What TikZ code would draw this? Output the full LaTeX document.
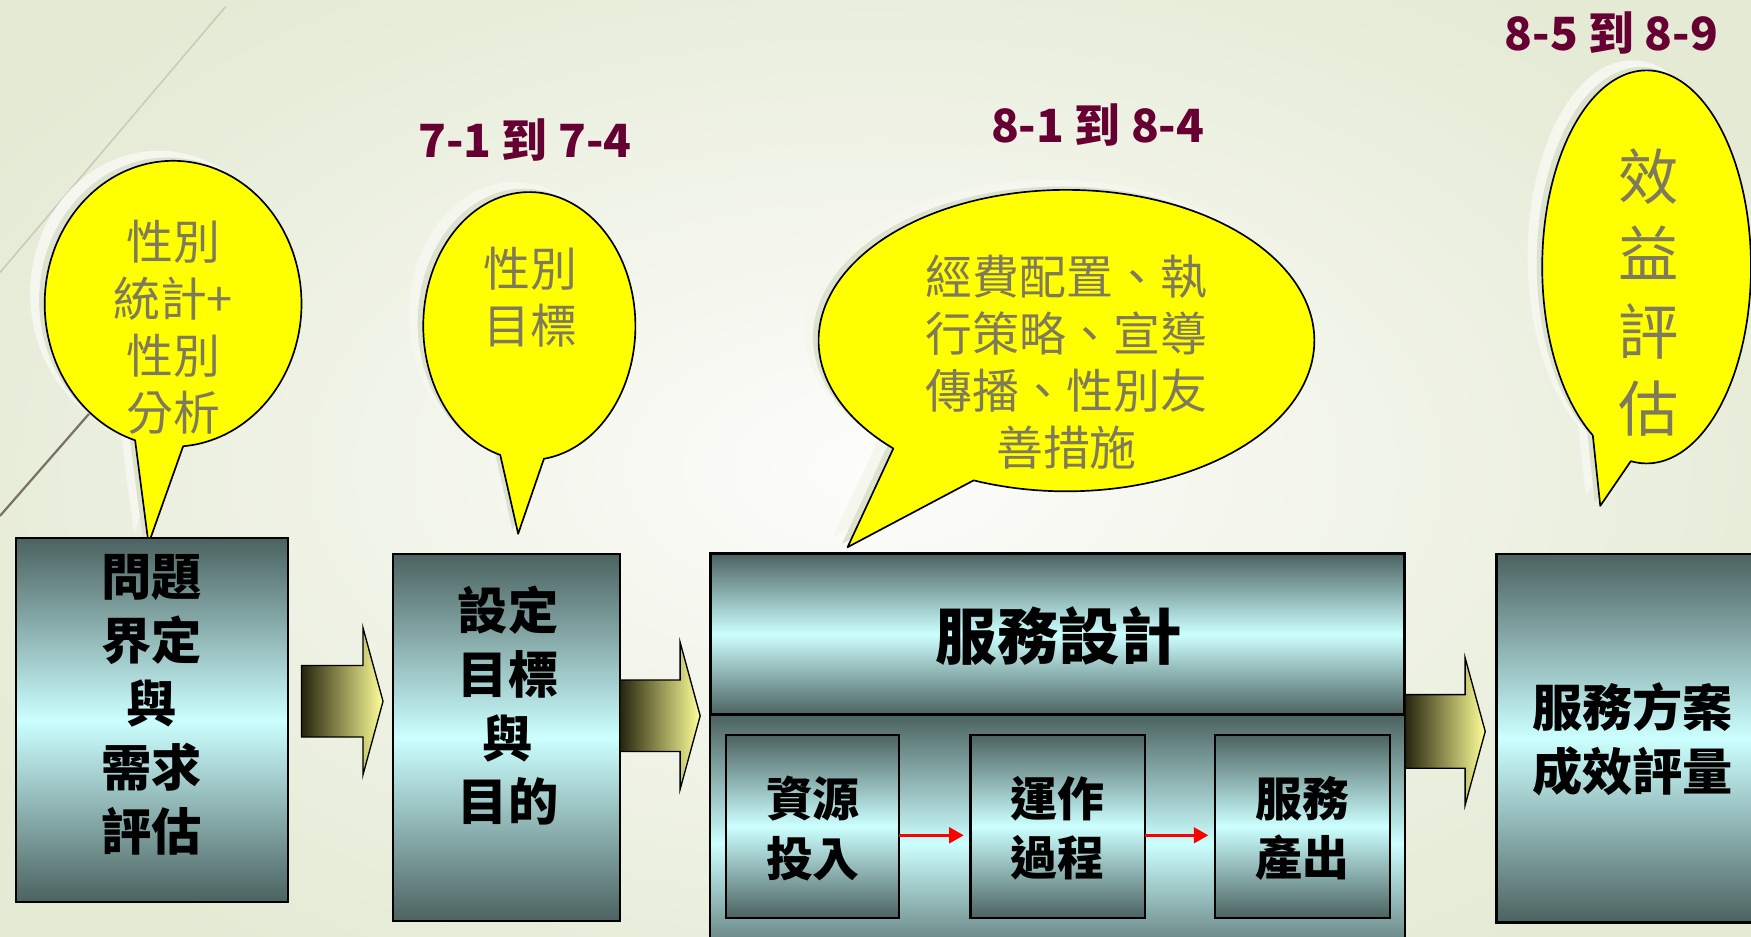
\documentclass[tikz,border=0pt]{standalone}
\usepackage{fontspec}
\newfontfamily\cjk{Noto Sans CJK TC}
\usetikzlibrary{arrows.meta}
\definecolor{bgin}{HTML}{FDFDFB}
\definecolor{bgout}{HTML}{E4EAD4}
\definecolor{boxdark}{HTML}{4B6260}
\definecolor{boxlight}{HTML}{CCFFFF}
\definecolor{bubtextc}{HTML}{7F7A5C}
\definecolor{labelc}{HTML}{660033}
\definecolor{arrdark}{HTML}{24240E}
\definecolor{arrlight}{HTML}{FFFF99}
\definecolor{shadowA}{HTML}{F5F7EE}
\definecolor{shadowB}{HTML}{DDE2CF}
\definecolor{linefaint}{HTML}{C9CBB8}
\definecolor{linedark}{HTML}{7A7262}
\definecolor{bubfill}{RGB}{255,255,0}
\tikzset{
  box/.style={draw=black, line width=1pt, top color=boxdark, bottom color=boxdark, middle color=boxlight, inner sep=0pt, outer sep=0pt},
  boxtext/.style={font=\cjk\bfseries\fontsize{22.5}{28.5}\selectfont, align=center, text=black, inner sep=0pt},
  subtext/.style={font=\cjk\bfseries\fontsize{21}{26.5}\selectfont, align=center, text=black, inner sep=0pt},
  bubtext/.style={font=\cjk\fontsize{21}{25.5}\selectfont, align=center, text=bubtextc, inner sep=0pt},
  bubtextbig/.style={font=\cjk\fontsize{27}{34.5}\selectfont, align=center, text=bubtextc, inner sep=0pt},
  lab/.style={font=\cjk\bfseries\fontsize{20.5}{24}\selectfont, text=labelc, inner sep=0pt},
  bubble/.style={fill=bubfill, draw=black, line width=0.75pt, line join=round},
  blockarr/.style={left color=arrdark, right color=arrlight, draw=black, line width=0.6pt},
  redarr/.style={draw=red, line width=1.3pt, -{Triangle[length=6.5pt,width=7pt]}, shorten >=3pt}
}
\newcommand{\bubble}[8]{%
  \begin{scope}[shift={(-13,-9)}]
    \fill[shadowA] (#7,#8) -- plot[domain=#5:#6,samples=160] ({#1+#3*cos(\x)},{#2+#4*sin(\x)}) -- cycle;
  \end{scope}
  \begin{scope}[shift={(-5,-3)}]
    \fill[shadowB] (#7,#8) -- plot[domain=#5:#6,samples=160] ({#1+#3*cos(\x)},{#2+#4*sin(\x)}) -- cycle;
  \end{scope}
  \draw[bubble] (#7,#8) -- plot[domain=#5:#6,samples=160] ({#1+#3*cos(\x)},{#2+#4*sin(\x)}) -- cycle;
}
\newcommand{\blockarrow}[6]{%
  \shade[blockarr] (#1,#4-#5) -- (#3,#4-#5) -- (#3,#4-#6) -- (#2,#4) -- (#3,#4+#6) -- (#3,#4+#5) -- (#1,#4+#5) -- cycle;
}
\begin{document}
\begin{tikzpicture}[x=0.5pt,y=-0.5pt]
\useasboundingbox (0,0) rectangle (1568,838.2);
\clip (0,0) rectangle (1568,838.2);
% background
\shade[inner color=bgin, outer color=bgout] (-150,-120) rectangle (1718,958);
\draw[linefaint, line width=0.7pt] (202,6) -- (0,244);
\draw[linedark, line width=1pt] (150,290) -- (0,462);

% bubbles
\bubble{155}{272}{115}{128}{107.2}{445.5}{133}{487}
\bubble{474}{292}{95}{120}{105.9}{442.1}{464}{478}
\bubble{955}{305}{222}{135}{134.3}{472}{759}{490}
\bubble{1474.5}{239}{93.5}{176}{121}{458.7}{1433}{453}

\node[bubtext] (t1) at (155,293) {性別\\統計+\\性別\\分析};
\node[bubtext] (t2) at (475,266) {性別\\目標};
\node[bubtext] (t3) at (955,324) {經費配置、執\\行策略、宣導\\傳播、性別友\\善措施};
\node[bubtextbig] (t4) at (1476,262) {效\\益\\評\\估};

% labels
\node[lab] (l1) at (470,125) {7-1 到 7-4};
\node[lab] (l2) at (983,112) {8-1 到 8-4};
\node[lab] (l3) at (1443,30) {8-5 到 8-9};

% boxes
\node[box, minimum width=122pt, minimum height=163pt] (b1) at (136,645) {};
\node[boxtext] (b1t) at (136,631) {問題\\界定\\與\\需求\\評估};

\node[box, minimum width=101.5pt, minimum height=164.5pt] (b2) at (453.5,660.5) {};
\node[boxtext] (b2t) at (455,632) {設定\\目標\\與\\目的};

\node[box, minimum width=311pt, minimum height=115pt] (bb) at (947,755) {};
\node[box, line width=1.3pt, minimum width=311pt, minimum height=72pt] (bt) at (947,568) {};
\node[font=\cjk\bfseries\fontsize{27.5}{32}\selectfont, inner sep=0pt] (btt) at (948,570) {服務設計};

\node[box, minimum width=77.5pt, minimum height=82pt] (s1) at (727.5,740) {};
\node[box, minimum width=78pt, minimum height=82pt] (s2) at (947,740) {};
\node[box, minimum width=78.5pt, minimum height=82pt] (s3) at (1166.5,740) {};
\node[subtext] (s1t) at (728,742) {資源\\投入};
\node[subtext] (s2t) at (947,742) {運作\\過程};
\node[subtext] (s3t) at (1166,742) {服務\\產出};
\draw[redarr] ([yshift=-4pt]s1.east) -- ([yshift=-4pt]s2.west);
\draw[redarr] ([yshift=-4pt]s2.east) -- ([yshift=-4pt]s3.west);

\node[box, minimum width=130pt, minimum height=165pt] (b5) at (1470,661) {};
\node[boxtext] (b5t) at (1462,662) {服務方案\\成效評量};

% block arrows
\blockarrow{270}{343}{325}{628}{32}{66}
\blockarrow{555}{627}{609}{641}{32}{66}
\blockarrow{1258}{1330}{1312}{655}{33}{66}
\end{tikzpicture}
\end{document}
